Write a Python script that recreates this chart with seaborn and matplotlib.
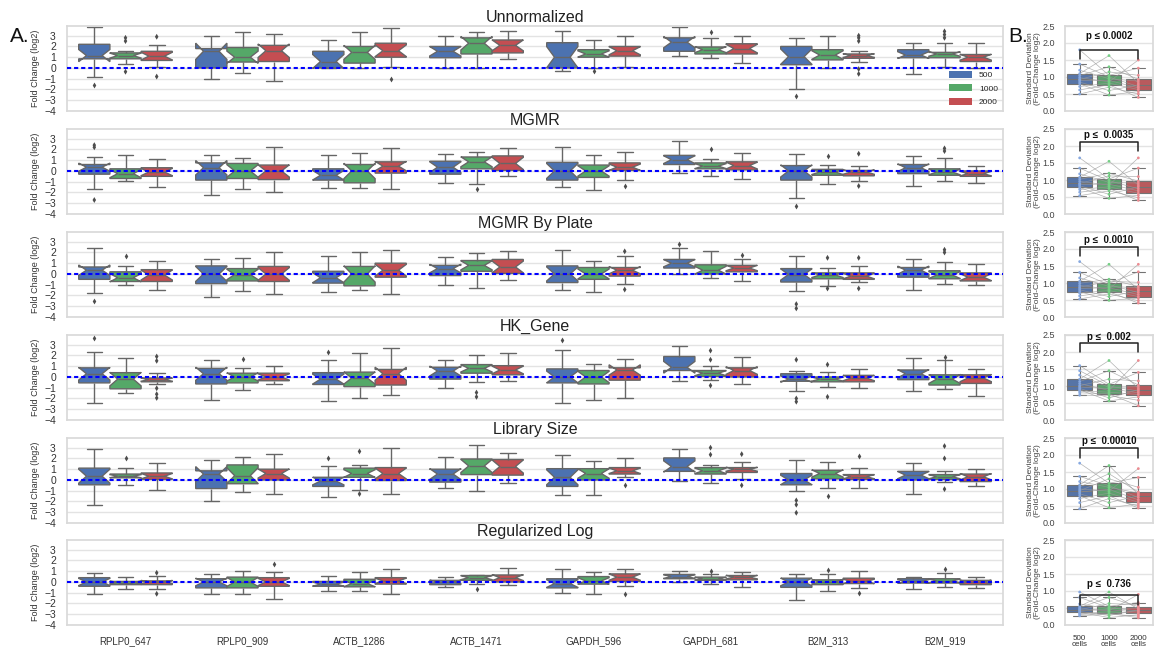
import numpy as np
import pandas as pd
import matplotlib
matplotlib.use("Agg")
import matplotlib.pyplot as plt
import seaborn as sns
from matplotlib.patches import Patch

# ---------------- data ----------------
GENES = ["RPLP0_647", "RPLP0_909", "ACTB_1286", "ACTB_1471",
         "GAPDH_596", "GAPDH_681", "B2M_313", "B2M_919"]
CELLS = ["500", "1000", "2000"]
COLORS = ["#4C72B0", "#55A868", "#C44E52"]
LIGHT = ["#86a8e0", "#74cf84", "#ec8c92"]
TITLES = ["Unnormalized", "MGMR", "MGMR By Plate", "HK_Gene",
          "Library Size", "Regularized Log"]

# five-number summaries (low whisker, q1, median, q3, high whisker) per gene
UNNORM_500 = [(-0.8, 0.85, 1.15, 2.2, 3.8), (-1.0, 0.0, 1.55, 1.8, 3.0), (0.0, 0.0, 0.6, 1.55, 2.6),
              (0.0, 0.95, 1.55, 2.0, 3.0), (-0.3, 0.0, 1.0, 2.35, 3.45), (1.15, 1.55, 2.4, 2.8, 3.85),
              (-2.0, 0.3, 1.05, 2.0, 2.8), (-0.55, 0.95, 1.2, 1.7, 2.3)]
UNNORM_1000 = [(0.4, 0.85, 1.15, 1.4, 1.6), (-0.5, 0.55, 1.0, 1.9, 3.35), (0.0, 0.45, 1.45, 2.0, 3.35),
               (0.0, 1.3, 2.3, 2.8, 3.35), (0.0, 1.0, 1.3, 1.7, 2.6), (0.95, 1.3, 1.7, 1.95, 2.8),
               (0.0, 0.75, 1.2, 1.7, 3.0), (0.05, 0.95, 1.3, 1.45, 2.3)]
UNNORM_2000 = [(0.1, 0.7, 1.1, 1.55, 2.1), (-1.2, 0.6, 1.6, 2.1, 3.15), (0.1, 1.0, 1.6, 2.3, 3.7),
               (0.85, 1.4, 2.1, 2.6, 3.4), (0.1, 1.1, 1.6, 2.0, 3.0), (0.45, 1.3, 1.8, 2.25, 3.0),
               (0.55, 0.9, 1.15, 1.3, 1.55), (0.0, 0.6, 1.0, 1.25, 2.35)]
UNNORM_OUT = [("RPLP0_647", "500", -1.6), ("RPLP0_647", "1000", 2.8), ("RPLP0_647", "1000", 2.5),
              ("RPLP0_647", "1000", -0.35), ("RPLP0_647", "2000", 2.9), ("RPLP0_647", "2000", -0.8),
              ("ACTB_1286", "2000", -1.0), ("GAPDH_596", "1000", -0.3), ("GAPDH_681", "1000", 3.3),
              ("B2M_313", "500", -2.65), ("B2M_313", "2000", 3.0), ("B2M_313", "2000", 2.8),
              ("B2M_313", "2000", 2.5), ("B2M_313", "2000", -0.1), ("B2M_313", "2000", -0.55),
              ("B2M_919", "1000", 3.4), ("B2M_919", "1000", 3.1), ("B2M_919", "1000", 2.8)]

MGMR_500 = [(-1.7, -0.3, 0.35, 0.6, 1.3), (-2.2, -0.85, 0.3, 0.75, 1.45), (-1.55, -0.85, -0.4, 0.2, 1.45),
            (-1.1, -0.3, 0.35, 0.9, 1.55), (-1.5, -0.85, 0.0, 0.8, 2.2), (-0.15, 0.6, 1.05, 1.45, 2.75),
            (-2.55, -0.85, 0.0, 0.5, 1.6), (-1.4, -0.25, 0.3, 0.6, 1.35)]
MGMR_1000 = [(-0.95, -0.7, -0.25, 0.2, 1.45), (-1.65, -0.7, 0.0, 0.7, 1.25), (-1.55, -1.1, 0.0, 0.6, 1.65),
             (-1.25, 0.2, 0.85, 1.3, 1.75), (-1.8, -0.6, 0.0, 0.55, 1.45), (-0.45, 0.2, 0.45, 0.75, 1.15),
             (-1.25, -0.4, -0.1, 0.15, 0.6), (-0.9, -0.4, -0.1, 0.2, 1.2)]
MGMR_2000 = [(-1.5, -0.5, -0.1, 0.3, 1.1), (-1.95, -0.8, 0.0, 0.55, 2.2), (-1.65, -0.2, 0.45, 0.85, 2.15),
             (-0.45, 0.05, 0.7, 1.4, 2.15), (-0.8, 0.05, 0.35, 0.75, 1.75), (-0.75, 0.1, 0.5, 0.85, 1.65),
             (-0.9, -0.45, -0.1, 0.05, 0.5), (-1.1, -0.5, -0.25, 0.0, 0.5)]
MGMR_OUT = [("RPLP0_647", "500", 2.4), ("RPLP0_647", "500", 2.2), ("RPLP0_647", "500", -2.7),
            ("ACTB_1471", "1000", -1.65), ("GAPDH_596", "2000", -1.4), ("GAPDH_681", "1000", 2.05),
            ("B2M_313", "500", -3.3), ("B2M_313", "1000", 1.4), ("B2M_313", "2000", 1.6),
            ("B2M_313", "2000", -1.4), ("B2M_919", "1000", 2.1), ("B2M_919", "1000", 1.85)]

PLATE_500 = [(-1.8, -0.5, 0.35, 0.65, 2.45), (-2.1, -0.9, 0.0, 0.75, 1.4), (-1.65, -0.85, -0.35, 0.25, 1.7),
             (-1.05, -0.15, 0.5, 0.8, 1.55), (-1.45, -0.8, 0.0, 0.75, 2.2), (0.0, 0.55, 1.0, 1.35, 2.45),
             (-1.55, -0.75, -0.05, 0.5, 1.7), (-1.45, -0.3, 0.35, 0.6, 1.35)]
PLATE_1000 = [(-1.0, -0.7, -0.35, 0.2, 0.75), (-1.6, -0.65, -0.05, 0.5, 1.5), (-1.5, -1.1, 0.0, 0.7, 2.0),
              (-1.35, 0.25, 0.8, 1.25, 1.95), (-1.65, -0.5, 0.0, 0.6, 1.25), (-0.4, 0.0, 0.35, 0.85, 2.1),
              (-1.1, -0.45, -0.1, 0.1, 0.6), (-0.9, -0.45, -0.1, 0.3, 1.1)]
PLATE_2000 = [(-1.45, -0.7, -0.1, 0.4, 1.25), (-1.9, -0.7, 0.0, 0.7, 2.05), (-1.9, -0.3, 0.35, 1.0, 2.25),
              (-0.6, 0.05, 0.65, 1.35, 2.1), (-0.95, -0.2, 0.35, 0.6, 1.7), (-0.65, 0.2, 0.55, 0.8, 1.4),
              (-0.75, -0.5, -0.2, 0.1, 0.75), (-1.05, -0.65, -0.3, 0.1, 0.9)]
PLATE_OUT = [("RPLP0_647", "500", -2.5), ("RPLP0_647", "1000", 1.65), ("GAPDH_596", "2000", 2.1),
             ("GAPDH_596", "2000", -1.45), ("GAPDH_681", "500", 2.8), ("GAPDH_681", "2000", 1.8),
             ("B2M_313", "500", -2.8), ("B2M_313", "500", -3.2), ("B2M_313", "1000", 1.5),
             ("B2M_313", "1000", -1.35), ("B2M_313", "2000", 1.5), ("B2M_313", "2000", -1.35),
             ("B2M_919", "1000", 2.25), ("B2M_919", "1000", 2.0)]

HK_500 = [(-2.4, -0.55, 0.3, 0.85, 2.3), (-2.15, -0.65, 0.3, 0.8, 1.6), (-2.25, -0.7, -0.2, 0.4, 1.55),
          (-1.0, -0.2, 0.55, 0.9, 1.55), (-2.4, -0.55, 0.0, 0.75, 2.5), (-0.4, 0.6, 0.9, 1.9, 2.85),
          (-1.3, -0.4, -0.2, 0.3, 0.6), (-1.3, -0.25, 0.3, 0.65, 1.8)]
HK_1000 = [(-1.5, -1.1, -0.2, 0.4, 1.8), (-1.2, -0.55, 0.0, 0.35, 0.85), (-2.0, -0.9, -0.1, 0.45, 2.2),
           (-0.45, 0.35, 0.8, 1.15, 2.05), (-2.15, -0.65, 0.0, 0.6, 1.2), (-0.25, 0.05, 0.35, 0.6, 1.0),
           (-0.95, -0.45, -0.2, 0.0, 0.5), (-1.15, -0.75, -0.2, 0.2, 1.6)]
HK_2000 = [(-0.7, -0.45, -0.25, -0.1, 0.4), (-0.7, -0.35, 0.0, 0.35, 1.0), (-1.7, -0.75, 0.3, 0.7, 2.7),
           (-0.4, 0.2, 0.65, 1.05, 2.2), (-1.95, -0.3, 0.65, 0.85, 1.7), (-0.65, 0.0, 0.6, 0.85, 1.9),
           (-1.05, -0.45, -0.1, 0.15, 0.7), (-1.75, -0.6, -0.1, 0.2, 0.7)]
HK_OUT = [("RPLP0_647", "500", 3.6), ("RPLP0_647", "2000", 1.9), ("RPLP0_647", "2000", 1.5),
          ("RPLP0_647", "2000", -1.05), ("RPLP0_647", "2000", -1.6), ("RPLP0_647", "2000", -1.95),
          ("RPLP0_909", "1000", 1.7), ("ACTB_1286", "500", 2.3), ("ACTB_1471", "1000", -1.45),
          ("ACTB_1471", "1000", -1.85), ("GAPDH_596", "500", 3.4), ("GAPDH_681", "1000", 2.45),
          ("GAPDH_681", "1000", 1.6), ("GAPDH_681", "1000", -0.8), ("B2M_313", "500", 1.6),
          ("B2M_313", "500", -2.0), ("B2M_313", "500", -2.3), ("B2M_313", "1000", 1.15),
          ("B2M_313", "1000", -1.85), ("B2M_919", "1000", 1.9)]

LIB_500 = [(-2.3, -0.45, 0.35, 1.1, 2.9), (-1.95, -0.8, 0.55, 0.85, 1.85), (-1.6, -0.6, -0.1, 0.25, 1.3),
           (-0.75, -0.2, 0.55, 1.0, 2.1), (-1.4, -0.6, 0.25, 1.05, 2.35), (-0.05, 0.8, 1.25, 2.05, 2.9),
           (-1.05, -0.45, 0.0, 0.6, 1.85), (-1.3, 0.0, 0.45, 0.8, 1.6)]
LIB_1000 = [(-0.45, 0.2, 0.35, 0.55, 1.1), (-1.15, -0.35, 0.4, 1.4, 2.1), (-0.9, 0.25, 0.6, 1.1, 1.35),
            (-1.0, 0.5, 1.3, 1.95, 3.25), (-1.4, 0.0, 0.6, 1.05, 1.8), (-0.25, 0.55, 0.85, 1.15, 1.4),
            (-0.75, 0.1, 0.6, 0.9, 1.7), (-0.2, 0.05, 0.3, 0.5, 0.8)]
LIB_2000 = [(-0.9, 0.05, 0.35, 0.65, 1.55), (-1.35, 0.0, 0.6, 1.0, 2.4), (-1.3, -0.05, 0.6, 1.15, 3.0),
            (-0.3, 0.45, 1.25, 1.9, 2.55), (0.25, 0.55, 0.85, 1.15, 2.0), (0.1, 0.7, 1.0, 1.15, 1.7),
            (-0.75, 0.05, 0.3, 0.5, 1.15), (-0.6, -0.15, 0.3, 0.55, 1.05)]
LIB_OUT = [("RPLP0_647", "1000", 2.0), ("ACTB_1286", "500", 2.0), ("ACTB_1286", "1000", 2.65),
           ("ACTB_1286", "1000", -1.3), ("GAPDH_596", "2000", -0.5), ("GAPDH_681", "1000", 3.0),
           ("GAPDH_681", "1000", 2.35), ("GAPDH_681", "2000", 2.4), ("GAPDH_681", "2000", -0.5),
           ("B2M_313", "500", -1.9), ("B2M_313", "500", -2.3), ("B2M_313", "500", -3.05),
           ("B2M_313", "1000", -1.5), ("B2M_313", "2000", 2.2), ("B2M_919", "1000", 3.15),
           ("B2M_919", "1000", 2.0), ("B2M_919", "1000", -0.85)]

RLOG_500 = [(-1.15, -0.4, 0.0, 0.4, 0.85), (-1.15, -0.55, 0.0, 0.3, 0.75), (-0.85, -0.4, -0.2, 0.05, 0.55),
            (-0.45, -0.25, 0.0, 0.15, 0.5), (-1.05, -0.55, -0.15, 0.3, 1.25), (0.0, 0.3, 0.5, 0.7, 1.0),
            (-1.65, -0.5, 0.0, 0.35, 0.75), (-0.7, -0.1, 0.05, 0.3, 0.5)]
RLOG_1000 = [(-0.7, -0.25, -0.05, 0.05, 0.5), (-1.1, -0.55, 0.0, 0.45, 1.05), (-0.8, -0.45, -0.15, 0.25, 0.95),
             (-0.2, 0.15, 0.4, 0.6, 0.65), (-1.1, -0.2, 0.1, 0.5, 0.9), (-0.2, 0.15, 0.3, 0.45, 0.75),
             (-0.8, -0.25, 0.0, 0.2, 0.7), (-0.45, -0.1, 0.1, 0.3, 0.85)]
RLOG_2000 = [(-0.7, -0.25, 0.0, 0.1, 0.55), (-1.55, -0.4, 0.0, 0.4, 0.95), (-1.1, -0.2, 0.1, 0.4, 1.25),
             (-0.3, 0.0, 0.4, 0.65, 1.3), (-0.35, 0.05, 0.45, 0.75, 1.2), (-0.45, 0.2, 0.45, 0.6, 0.9),
             (-0.55, -0.15, 0.05, 0.35, 1.05), (-0.6, -0.25, 0.0, 0.15, 0.45)]
RLOG_OUT = [("RPLP0_647", "2000", 0.85), ("RPLP0_647", "2000", -1.1), ("RPLP0_909", "2000", 1.7),
            ("ACTB_1471", "1000", -0.7), ("GAPDH_596", "2000", -1.1), ("GAPDH_681", "1000", 1.05),
            ("B2M_313", "1000", 1.15), ("B2M_313", "2000", -1.0), ("B2M_919", "1000", 1.25)]

# per-gene standard deviations (panel B), same gene order within each panel
SD_UNNORM = ([1.80, 0.50, 0.90, 1.10, 0.80, 0.98, 1.38, 0.62, 1.04, 0.85, 1.20, 0.72, 0.93],
             [1.05, 0.70, 0.90, 1.63, 0.47, 0.86, 1.00, 0.77, 1.30, 0.60, 0.95, 0.82, 1.15],
             [1.26, 0.50, 0.68, 0.82, 0.57, 1.50, 0.72, 0.40, 0.93, 0.77, 0.88, 0.63, 1.05])
SD_MGMR = ([1.65, 0.54, 0.87, 1.08, 0.78, 0.96, 1.35, 0.64, 1.02, 0.83, 1.18, 0.72, 0.90],
           [1.03, 0.68, 0.88, 1.55, 0.46, 0.85, 0.98, 0.75, 1.20, 0.58, 0.93, 0.80, 1.12],
           [1.35, 0.48, 0.68, 0.85, 0.55, 1.65, 0.74, 0.40, 0.97, 0.80, 0.91, 0.61, 1.10])
SD_PLATE = ([1.63, 0.53, 0.84, 1.05, 0.75, 0.93, 1.31, 0.62, 0.99, 0.80, 1.15, 0.70, 0.88],
            [0.99, 0.68, 0.86, 1.55, 0.49, 0.82, 0.95, 0.74, 1.11, 0.60, 0.90, 0.78, 1.05],
            [1.33, 0.48, 0.66, 0.81, 0.55, 1.55, 0.72, 0.41, 0.90, 0.77, 0.86, 0.60, 1.02])
SD_HK = ([1.60, 0.73, 0.97, 1.20, 0.89, 1.07, 1.45, 0.80, 1.13, 0.93, 1.32, 0.85, 1.01],
         [1.05, 0.72, 0.92, 1.75, 0.56, 0.87, 1.00, 0.77, 1.45, 0.65, 0.96, 0.82, 1.20],
         [1.40, 0.58, 0.80, 0.93, 0.68, 1.75, 0.85, 0.42, 1.03, 0.89, 0.98, 0.75, 1.15])
SD_LIB = ([1.76, 0.42, 0.91, 1.12, 0.80, 1.00, 1.37, 0.60, 1.06, 0.86, 1.22, 0.72, 0.95],
          [1.17, 0.72, 0.99, 1.69, 0.45, 0.94, 1.10, 0.80, 1.45, 0.60, 1.05, 0.88, 1.30],
          [1.34, 0.50, 0.68, 0.84, 0.56, 1.60, 0.75, 0.44, 0.91, 0.80, 0.88, 0.61, 1.05])
SD_RLOG = ([0.97, 0.27, 0.43, 0.55, 0.37, 0.48, 0.81, 0.31, 0.51, 0.40, 0.62, 0.34, 0.45],
           [0.55, 0.32, 0.45, 0.97, 0.22, 0.42, 0.51, 0.35, 0.81, 0.28, 0.48, 0.39, 0.63],
           [0.66, 0.26, 0.38, 0.47, 0.30, 0.90, 0.41, 0.21, 0.54, 0.44, 0.50, 0.34, 0.60])

P_TEXT = ["p \u2264 0.0002", "p \u2264  0.0035", "p \u2264  0.0010", "p \u2264  0.002",
          "p \u2264  0.00010", "p \u2264  0.736"]
BRACKET_TOP = [1.80, 2.12, 2.06, 2.27, 2.20, 0.88]
BRACKET_LEG = [1.52, 1.86, 1.80, 1.99, 1.92, 0.60]
P_TEXT_Y = [2.20, 2.33, 2.27, 2.45, 2.40, 1.22]

BOXES = [(UNNORM_500, UNNORM_1000, UNNORM_2000), (MGMR_500, MGMR_1000, MGMR_2000),
         (PLATE_500, PLATE_1000, PLATE_2000), (HK_500, HK_1000, HK_2000),
         (LIB_500, LIB_1000, LIB_2000), (RLOG_500, RLOG_1000, RLOG_2000)]
OUTS = [UNNORM_OUT, MGMR_OUT, PLATE_OUT, HK_OUT, LIB_OUT, RLOG_OUT]
SDS = [SD_UNNORM, SD_MGMR, SD_PLATE, SD_HK, SD_LIB, SD_RLOG]

# ---------------- style ----------------
sns.set_theme(style="whitegrid")
plt.rcParams["font.family"] = ["Liberation Sans", "DejaVu Sans"]
plt.rcParams["axes.edgecolor"] = "#d9d9d9"
plt.rcParams["grid.color"] = "#e3e3e3"

W, H = 1155, 648
fig = plt.figure(figsize=(W / 100, H / 100), dpi=100)
TOPS = [26, 129, 232, 335, 438, 540]
PH = 85


def sample_from_summary(s):
    # a sample whose quartiles and extremes equal the five-number summary
    lo, q1, med, q3, hi = s
    return [lo] + [q1] * 4 + [med] * 4 + [q3] * 4 + [hi]


for p in range(6):
    top = TOPS[p]
    ax = fig.add_axes([67 / W, 1 - (top + PH) / H, 936 / W, PH / H])
    rows = []
    for ci, c in enumerate(CELLS):
        for gi, g in enumerate(GENES):
            for v in sample_from_summary(BOXES[p][ci][gi]):
                rows.append((g, c, v))
    df = pd.DataFrame(rows, columns=["gene", "cells", "value"])
    sns.boxplot(data=df, x="gene", y="value", hue="cells", order=GENES, hue_order=CELLS,
                palette=COLORS, notch=True, whis=(0, 100), showfliers=False, width=0.8,
                linewidth=1.0, linecolor="0.4", saturation=1, ax=ax, legend=False)
    out = pd.DataFrame(OUTS[p], columns=["gene", "cells", "value"])
    sns.stripplot(data=out, x="gene", y="value", hue="cells", order=GENES, hue_order=CELLS,
                  palette={c: "0.3" for c in CELLS}, dodge=True, jitter=False, marker="d",
                  size=3, linewidth=0, ax=ax, legend=False, zorder=4)
    ax.axhline(0, color="#0000ff", ls=(0, (2, 1.4)), lw=1.5, zorder=10)
    ax.set_ylim(-4, 3.9)
    ax.set_xlim(-0.5, 7.5)
    ax.set_yticks(range(-4, 4))
    ax.tick_params(axis="y", labelsize=7.5, pad=2, colors="#333333")
    ax.tick_params(axis="x", labelsize=7, pad=2, colors="#333333")
    ax.set_ylabel("Fold Change (log2)", fontsize=6.5, labelpad=3, color="#333333")
    ax.set_xlabel("")
    ax.set_title(TITLES[p], fontsize=11.5, pad=3, color="#222222")
    ax.xaxis.grid(False)
    if p < 5:
        ax.set_xticklabels([])
    if p == 0:
        handles = [Patch(facecolor=col, edgecolor="none", label=c) for c, col in zip(CELLS, COLORS)]
        ax.legend(handles=handles, loc="lower right", fontsize=6, frameon=False,
                  handlelength=2.8, handleheight=0.9, borderaxespad=0.2, labelspacing=0.6)

    # panel B
    bx = fig.add_axes([1065 / W, 1 - (top + PH) / H, 88 / W, PH / H])
    srows = []
    for ci, c in enumerate(CELLS):
        for gi, v in enumerate(SDS[p][ci]):
            srows.append((gi, c, ci, v))
    sdf = pd.DataFrame(srows, columns=["gene", "cells", "pos", "sd"])
    sns.boxplot(data=sdf, x="cells", y="sd", hue="cells", order=CELLS, hue_order=CELLS,
                palette=COLORS, showfliers=False, width=0.85, linewidth=0.8,
                linecolor="0.45", saturation=0.8, ax=bx, legend=False)
    sns.lineplot(data=sdf, x="pos", y="sd", units="gene", estimator=None, color="0.6",
                 lw=0.5, alpha=0.75, ax=bx, legend=False, zorder=3)
    sns.stripplot(data=sdf, x="cells", y="sd", hue="cells", order=CELLS, hue_order=CELLS,
                  palette=LIGHT, jitter=False, size=2, linewidth=0, ax=bx, legend=False, zorder=4)
    bx.plot([0, 0, 2, 2], [BRACKET_LEG[p], BRACKET_TOP[p], BRACKET_TOP[p], BRACKET_LEG[p]],
            color="#222222", lw=1.1, zorder=5)
    bx.text(1, P_TEXT_Y[p], P_TEXT[p], ha="center", va="center", fontsize=7,
            fontweight="bold", color="#111111")
    bx.set_ylim(0, 2.5)
    bx.set_xlim(-0.5, 2.5)
    bx.set_yticks([0, 0.5, 1.0, 1.5, 2.0, 2.5])
    bx.set_yticklabels(["0.0", "0.5", "1.0", "1.5", "2.0", "2.5"])
    bx.tick_params(axis="y", labelsize=6.5, pad=1, colors="#444444")
    bx.tick_params(axis="x", labelsize=5.8, pad=1, colors="#333333")
    bx.set_ylabel("Standard Deviation\n(Fold-Change log2)", fontsize=6, labelpad=1,
                  color="#444444", linespacing=1.0)
    bx.set_xlabel("")
    bx.xaxis.grid(False)
    bx.set_xticks([0, 1, 2])
    if p < 5:
        bx.set_xticklabels([])
    else:
        bx.set_xticklabels([c + "\ncells" for c in CELLS], linespacing=0.9)

fig.text(10 / W, 1 - 37 / H, "A.", fontsize=15, va="center", ha="left", color="#111111")
fig.text(1008 / W, 1 - 36 / H, "B.", fontsize=15, va="center", ha="left", color="#111111")

fig.savefig("out.png", dpi=100)
